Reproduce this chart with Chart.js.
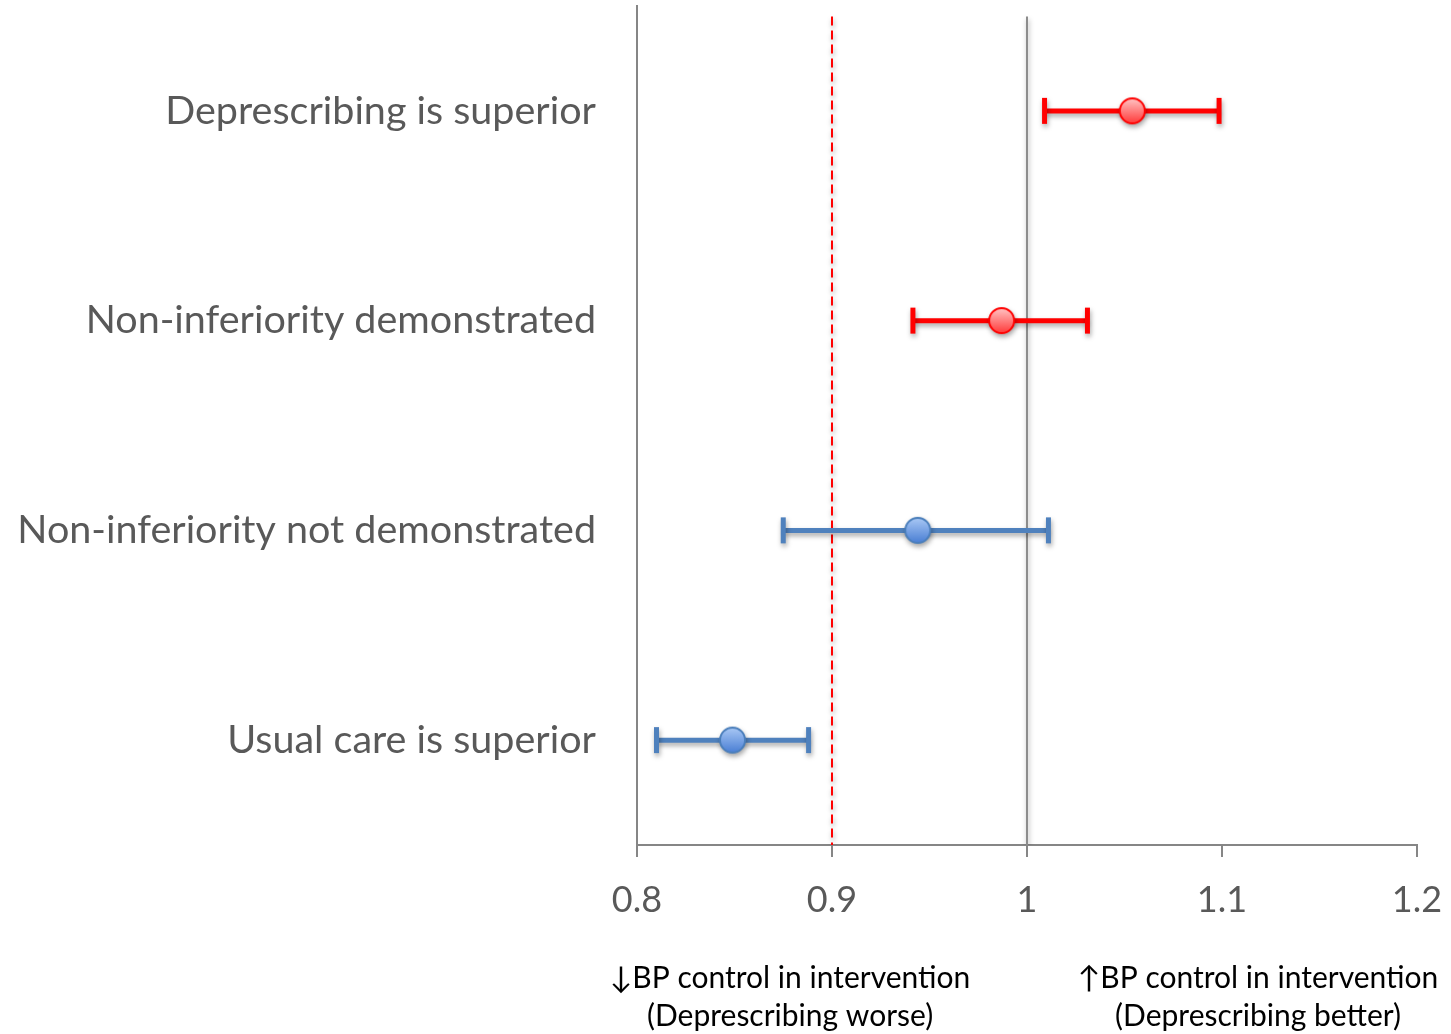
<!DOCTYPE html>
<html>
<head>
<meta charset="utf-8">
<title>Non-inferiority of deprescribing: BP control</title>
<script src="https://cdn.jsdelivr.net/npm/chart.js@4/dist/chart.umd.min.js"></script>
<style>
  html, body { margin: 0; padding: 0; background: #ffffff; }
  #wrap { position: relative; width: 1451px; height: 1034px; }
  canvas { display: block; }
</style>
</head>
<body>
<div id="wrap"><canvas id="chart" width="1451" height="1034"></canvas></div>
<script>
// Scenarios, top to bottom
const categories = [
  'Deprescribing is superior',
  'Non-inferiority demonstrated',
  'Non-inferiority not demonstrated',
  'Usual care is superior'
];
// Point estimates and confidence limits (ratio, intervention vs usual care)
const estimates = [1.054, 0.987, 0.944, 0.849];
const lowerCI   = [1.009, 0.9415, 0.875, 0.810];
const upperCI   = [1.0985, 1.031, 1.011, 0.888];

// Reference values
const nullValue = 1.0;              // no difference
const nonInferiorityMargin = 0.9;   // margin

// X axis ticks
const xTicks = [0.8, 0.9, 1.0, 1.1, 1.2];

// Direction notes below the axis
const leftNote  = ['\u2193BP control in intervention', '(Deprescribing worse)'];
const rightNote = ['\u2191BP control in intervention', '(Deprescribing better)'];

// ---- styling ----
const RED = '#ff0000';
const BLUE = '#4f81bd';
const FONT = 'Lato, "Open Sans", sans-serif';
const LABEL_GREY = '#595959';
const AXIS_GREY = '#868686';

// gradient-filled marker drawn once per colour
function makeMarker(light, dark, edge) {
  const r = 12.5, pad = 2;
  const c = document.createElement('canvas');
  c.width = c.height = Math.ceil((r + pad) * 2);
  const g = c.getContext('2d');
  const cx = c.width / 2, cy = c.height / 2;
  const grad = g.createLinearGradient(0, cy - r, 0, cy + r);
  grad.addColorStop(0, light);
  grad.addColorStop(1, dark);
  g.beginPath();
  g.arc(cx, cy, r, 0, Math.PI * 2);
  g.fillStyle = grad;
  g.fill();
  g.lineWidth = 2;
  g.strokeStyle = edge;
  g.stroke();
  return c;
}
const redMarker = makeMarker('#ffc4c4', '#ff3a3a', '#ff0000');
const blueMarker = makeMarker('#a9c8f5', '#4a7fd4', '#4a7ebb');

// row i sits in the middle of band i on a 0..n linear axis
const rowPos = categories.map((_, i) => i + 0.5);
const showsNonInferiority = lowerCI.map(v => v > nonInferiorityMargin);

const datasets = [];

// reference lines
datasets.push({
  type: 'line',
  data: [{ x: nullValue, y: 0.05 }, { x: nullValue, y: categories.length }],
  borderColor: '#8c8c8c', borderWidth: 2, pointRadius: 0, order: 5
});
datasets.push({
  type: 'line',
  data: [{ x: nonInferiorityMargin, y: 0.05 }, { x: nonInferiorityMargin, y: categories.length }],
  borderColor: RED, borderWidth: 2, borderDash: [9, 5], pointRadius: 0, order: 5
});

// confidence intervals with end caps
categories.forEach((cat, i) => {
  const col = showsNonInferiority[i] ? RED : BLUE;
  datasets.push({
    type: 'line',
    label: cat,
    data: [{ x: lowerCI[i], y: rowPos[i] }, { x: upperCI[i], y: rowPos[i] }],
    borderColor: col,
    borderWidth: 5,
    pointStyle: 'line',
    pointRotation: 90,
    pointRadius: 13,
    pointBorderWidth: 5,
    pointBorderColor: col,
    pointBackgroundColor: col,
    order: 2
  });
});

// point estimates
datasets.push({
  type: 'scatter',
  data: categories.map((_, i) => ({ x: estimates[i], y: rowPos[i] })),
  pointStyle: categories.map((_, i) => showsNonInferiority[i] ? redMarker : blueMarker),
  pointRadius: 13,
  order: 1
});

// soft drop shadow under the marks
const shadowPlugin = {
  id: 'markShadow',
  beforeDatasetDraw(chart) {
    const ctx = chart.ctx;
    ctx.save();
    ctx.shadowColor = 'rgba(0,0,0,0.35)';
    ctx.shadowBlur = 5;
    ctx.shadowOffsetX = 1;
    ctx.shadowOffsetY = 3;
  },
  afterDatasetDraw(chart) {
    chart.ctx.restore();
  }
};

// direction notes under the x axis
const notesPlugin = {
  id: 'directionNotes',
  afterDraw(chart) {
    const ctx = chart.ctx;
    ctx.save();
    ctx.fillStyle = '#000000';
    ctx.font = '30px ' + FONT;
    ctx.textAlign = 'center';
    ctx.textBaseline = 'middle';
    const top = chart.chartArea.bottom + 133;
    const lineGap = 38;
    const xs = chart.scales.x;
    const lx = xs.getPixelForValue(0.8785);
    const rx = xs.getPixelForValue(1.1185);
    leftNote.forEach((t, k) => ctx.fillText(t, lx, top + k * lineGap));
    rightNote.forEach((t, k) => ctx.fillText(t, rx, top + k * lineGap));
    ctx.restore();
  }
};

new Chart(document.getElementById('chart'), {
  type: 'scatter',
  data: { datasets },
  plugins: [shadowPlugin, notesPlugin],
  options: {
    responsive: false,
    animation: false,
    events: [],
    layout: { autoPadding: false, padding: { top: 6, right: 34, left: 0, bottom: 0 } },
    plugins: { legend: { display: false }, tooltip: { enabled: false } },
    scales: {
      x: {
        type: 'linear',
        min: xTicks[0],
        max: xTicks[xTicks.length - 1],
        afterBuildTicks(scale) { scale.ticks = xTicks.map(v => ({ value: v })); },
        afterFit(scale) {
          scale.height = 189;
          scale.paddingLeft = 0;
          scale.paddingRight = 0;
        },
        border: { display: true, color: AXIS_GREY, width: 2 },
        grid: { drawOnChartArea: false, drawTicks: true, tickLength: 12, color: AXIS_GREY, lineWidth: 2 },
        ticks: {
          color: LABEL_GREY,
          font: { family: FONT, size: 36, lineHeight: 1.95 },
          padding: 8,
          maxRotation: 0,
          callback: v => String(Math.round(v * 10) / 10)
        }
      },
      y: {
        type: 'linear',
        reverse: true,
        min: 0,
        max: categories.length,
        afterBuildTicks(scale) { scale.ticks = rowPos.map(v => ({ value: v })); },
        afterFit(scale) {
          scale.width = 637;
          scale.paddingTop = 0;
          scale.paddingBottom = 0;
        },
        border: { display: true, color: AXIS_GREY, width: 2 },
        grid: { display: true, drawOnChartArea: false, drawTicks: true, tickLength: 41, color: 'rgba(0,0,0,0)' },
        ticks: {
          color: LABEL_GREY,
          font: { family: FONT, size: 39.5 },
          padding: 0,
          callback: v => categories[Math.floor(v)]
        }
      }
    }
  }
});
</script>
</body>
</html>
